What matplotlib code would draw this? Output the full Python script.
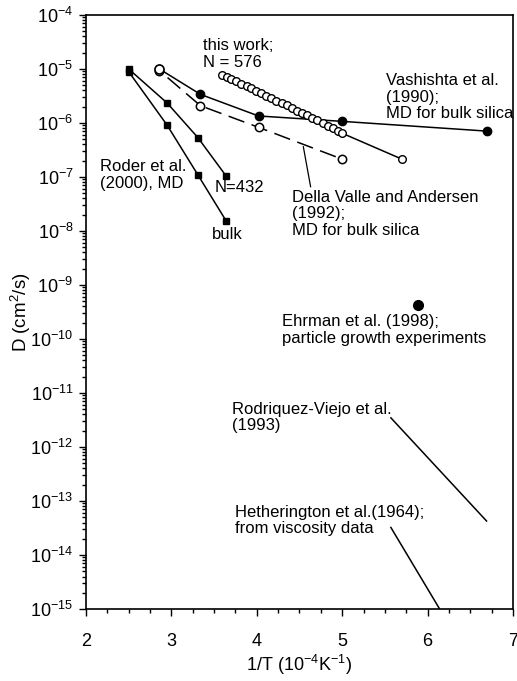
import numpy as np
import matplotlib
matplotlib.use("Agg")
import matplotlib.pyplot as plt
import matplotlib.ticker as ticker

plt.rcParams['font.family'] = ['Liberation Sans', 'DejaVu Sans']
plt.rcParams['mathtext.fontset'] = 'custom'
plt.rcParams['mathtext.rm'] = 'Liberation Sans'
plt.rcParams['mathtext.it'] = 'Liberation Sans:italic'

# Roder et al. (2000), MD -- N=432 and bulk
roder_432_x = [2.50, 2.95, 3.31, 3.64]
roder_432_logD = [-5.00, -5.63, -6.27, -6.98]
roder_bulk_x = [2.50, 2.95, 3.31, 3.64]
roder_bulk_logD = [-5.05, -6.04, -6.96, -7.81]

# Vashishta et al. (1990)
vash_x = [2.86, 3.34, 4.02, 5.00, 6.69]
vash_logD = [-5.00, -5.47, -5.87, -5.97, -6.15]

# Della Valle and Andersen (1992)
della_x = [2.86, 3.34, 4.02, 5.00]
della_logD = [-5.03, -5.68, -6.08, -6.67]

# this work, N = 576
work_x = [3.59, 3.65, 3.70, 3.76, 3.82, 3.88, 3.93, 3.99, 4.05, 4.11, 4.17,
          4.23, 4.29, 4.35, 4.41, 4.47, 4.53, 4.59, 4.65, 4.71, 4.77, 4.83,
          4.89, 4.95, 5.00, 5.70]
work_logD = [-5.11, -5.15, -5.18, -5.23, -5.27, -5.32, -5.36, -5.41, -5.45,
             -5.50, -5.54, -5.59, -5.63, -5.67, -5.72, -5.77, -5.82, -5.86,
             -5.91, -5.95, -6.00, -6.05, -6.10, -6.14, -6.19, -6.67]
work_hot_x = [2.86]
work_hot_logD = [-5.00]

# Ehrman et al. (1998)
ehrman_x = [5.89]
ehrman_logD = [-9.37]

# Rodriquez-Viejo et al. (1993)
rv_x = [5.57, 6.69]
rv_logD = [-11.46, -13.37]

# Hetherington et al. (1964)
heth_x = [5.57, 6.16]
heth_logD = [-13.49, -15.05]


def D(logs):
    return [10.0 ** v for v in logs]


fig = plt.figure(figsize=(5.17, 6.81), dpi=100)
ax = fig.add_axes([0.1663, 0.1057, 0.826, 0.8723])

lw = 1.1
ax.plot(roder_432_x, D(roder_432_logD), '-s', color='black', lw=lw, ms=4.5)
ax.plot(roder_bulk_x, D(roder_bulk_logD), '-s', color='black', lw=lw, ms=4.5)
ax.plot(vash_x, D(vash_logD), '-o', color='black', lw=lw, ms=6)
ax.plot(della_x, D(della_logD), color='black', lw=lw,
        linestyle=(9, (11, 5)))
ax.plot(della_x, D(della_logD), 'o', color='black', mfc='white', ms=6,
        mew=1.1)
ax.plot(work_x, D(work_logD), '-o', color='black', lw=lw, mfc='white',
        ms=5.5, mew=1.0)
ax.plot(work_hot_x, D(work_hot_logD), 'o', color='black', mfc='white',
        ms=6.5, mew=1.2)
ax.plot(ehrman_x, D(ehrman_logD), 'o', color='black', ms=7)
ax.plot(rv_x, D(rv_logD), '-', color='black', lw=lw)
ax.plot(heth_x, D(heth_logD), '-', color='black', lw=lw, clip_on=True)

# leader from the Della Valle label to its curve
ax.plot([4.545, 4.63], [10 ** -6.44, 10 ** -7.18], '-', color='black', lw=0.9)

ax.set_yscale('log')
ax.set_xlim(2, 7)
ax.set_ylim(1e-15, 1e-4)

ax.xaxis.set_major_locator(ticker.MultipleLocator(1))
ax.xaxis.set_minor_locator(ticker.MultipleLocator(0.25))
ax.yaxis.set_major_locator(ticker.LogLocator(base=10, numticks=20))
ax.yaxis.set_minor_locator(ticker.LogLocator(base=10, subs=np.arange(2, 10),
                                             numticks=100))
ax.yaxis.set_minor_formatter(ticker.NullFormatter())

ax.tick_params(which='both', direction='out', top=False, right=False,
               labelsize=13, width=1.0)
ax.tick_params(which='major', length=5)
ax.tick_params(which='minor', length=3)
ax.tick_params(axis='x', pad=12)
ax.tick_params(axis='y', pad=4)
for s in ax.spines.values():
    s.set_linewidth(1.2)

ax.set_xlabel(r'1/T (10$^{-4}$K$^{-1}$)', fontsize=13, labelpad=2)
ax.set_ylabel(r'D (cm$^2$/s)', fontsize=13.5, labelpad=-2)

fs = 12
ls = 1.12
ax.text(3.37, 10 ** -4.43, 'this work;\nN = 576', fontsize=fs, va='top',
        linespacing=ls)
ax.text(5.51, 10 ** -5.08, 'Vashishta et al.\n(1990);\nMD for bulk silica',
        fontsize=fs, va='top', linespacing=ls)
ax.text(4.41, 10 ** -7.24, 'Della Valle and Andersen\n(1992);\nMD for bulk silica',
        fontsize=fs, va='top', linespacing=ls)
ax.text(2.17, 10 ** -6.67, 'Roder et al.\n(2000), MD', fontsize=fs, va='top',
        linespacing=ls)
ax.text(3.51, 10 ** -7.06, 'N=432', fontsize=fs, va='top')
ax.text(3.48, 10 ** -7.92, 'bulk', fontsize=fs, va='top')
ax.text(4.30, 10 ** -9.54, 'Ehrman et al. (1998);\nparticle growth experiments',
        fontsize=fs, va='top', linespacing=ls)
ax.text(3.71, 10 ** -11.16, 'Rodriquez-Viejo et al.\n(1993)', fontsize=fs,
        va='top', linespacing=ls)
ax.text(3.75, 10 ** -13.07, 'Hetherington et al.(1964);\nfrom viscosity data',
        fontsize=fs, va='top', linespacing=ls)

fig.savefig('out.png', dpi=100)
